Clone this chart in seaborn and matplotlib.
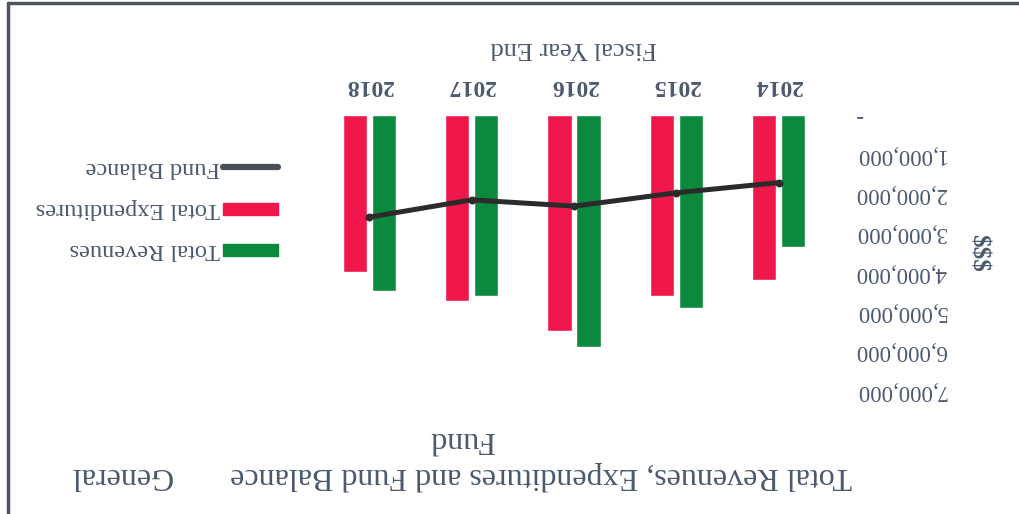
import matplotlib
matplotlib.use("Agg")
import matplotlib.pyplot as plt
from matplotlib.lines import Line2D
from matplotlib.patches import Rectangle
import numpy as np
import pandas as pd
import seaborn as sns

# General Fund summary by fiscal year
years = ["2014", "2015", "2016", "2017", "2018"]
total_revenues = [3350000, 4920000, 5900000, 4610000, 4470000]
total_expenditures = [4200000, 4610000, 5510000, 4730000, 3990000]
fund_balance = [1720000, 1980000, 2320000, 2160000, 2600000]

series_names = ["Total Revenues", "Total Expenditures", "Fund Balance"]
y_ticks = [0, 1000000, 2000000, 3000000, 4000000, 5000000, 6000000, 7000000]
y_tick_labels = ["-", "1,000,000", "2,000,000", "3,000,000", "4,000,000",
                 "5,000,000", "6,000,000", "7,000,000"]
title_text = "Total Revenues, Expenditures and Fund Balance       General\nFund"

GREEN = "#0b8a3e"
RED = "#f0184a"
LINE = "#2b2b2b"
LEGEND_LINE = "#4a5059"
TEXT = "#4a5a6e"
BORDER = "#4d5663"

df = pd.DataFrame({
    "Year": years * 2,
    "Amount": total_revenues + total_expenditures,
    "Series": [series_names[0]] * len(years) + [series_names[1]] * len(years),
})

sns.set_theme(style="white")
plt.rcParams["font.family"] = ["Liberation Serif", "DejaVu Serif"]
plt.rcParams["text.color"] = TEXT
plt.rcParams["axes.labelcolor"] = TEXT
plt.rcParams["xtick.color"] = TEXT
plt.rcParams["ytick.color"] = TEXT

W, H = 1019, 514
fig = plt.figure(figsize=(W / 100, H / 100), dpi=100)
fig.patch.set_facecolor("white")
ax = fig.add_axes([318 / W, 1 - 390 / H, 512 / W, 275 / H])
ax.set_facecolor("white")

sns.barplot(data=df, x="Year", y="Amount", hue="Series",
            hue_order=series_names[:2], order=years,
            palette=[GREEN, RED], saturation=1,
            width=0.566, gap=0.17, legend=False, ax=ax, zorder=2)

sns.pointplot(x=years, y=fund_balance, order=years, color=LINE,
              markers="o", errorbar=None, ax=ax,
              linewidth=3.6, markersize=3, zorder=3)

# The page is printed upside down: both axes run reversed
ax.set_xlim(4.5, -0.5)
ax.set_ylim(7000000, 0)
for s in ax.spines.values():
    s.set_visible(False)

ax.xaxis.tick_top()
ax.yaxis.tick_right()
ax.set_yticks(y_ticks)
ax.set_yticklabels(y_tick_labels)
ax.tick_params(axis="y", length=0, pad=18, labelsize=16.5, labelrotation=180)
ax.tick_params(axis="x", length=0, pad=14, labelsize=17, labelrotation=180)
for t in ax.get_xticklabels():
    t.set_fontweight("bold")
for t in ax.get_yticklabels():
    t.set_va("center")

ax.xaxis.set_label_position("top")
ax.set_xlabel("Fiscal Year End", fontsize=19, rotation=180, labelpad=15)
ax.yaxis.set_label_position("right")
ax.set_ylabel(r"\$\$\$", fontsize=18, fontweight="bold", rotation=270,
              labelpad=23, va="center")
ax.grid(False)

# Legend keys (upside down, key to the right of its label)
key_x0, key_x1 = 223 / W, 278 / W
key_rows = [1 - 167 / H, 1 - 209 / H, 1 - 250 / H]
fig.add_artist(Line2D([key_x0, key_x1], [key_rows[0], key_rows[0]],
                      color=LEGEND_LINE, lw=4.5, solid_capstyle="round"))
for y, c in zip(key_rows[1:], [RED, GREEN]):
    fig.add_artist(Rectangle((key_x0, y - 6 / H), key_x1 - key_x0, 12 / H,
                             color=c, transform=fig.transFigure))
for y, name in zip(key_rows, [series_names[2], series_names[1], series_names[0]]):
    fig.text(220 / W, y, name, rotation=180, ha="right", va="center",
             fontsize=17.5)

fig.text(462 / W, 1 - 458 / H, title_text, rotation=180, ha="center",
         va="center", fontsize=23, multialignment="center", linespacing=1.3)

# Edge of the scanned page
fig.add_artist(Line2D([8 / W, 1], [1 - 3 / H, 1 - 3 / H], color=BORDER, lw=2.5))
fig.add_artist(Line2D([8 / W, 8 / W], [0, 1 - 3 / H], color=BORDER, lw=2.5))

fig.savefig("out.png", dpi=100, facecolor="white")
